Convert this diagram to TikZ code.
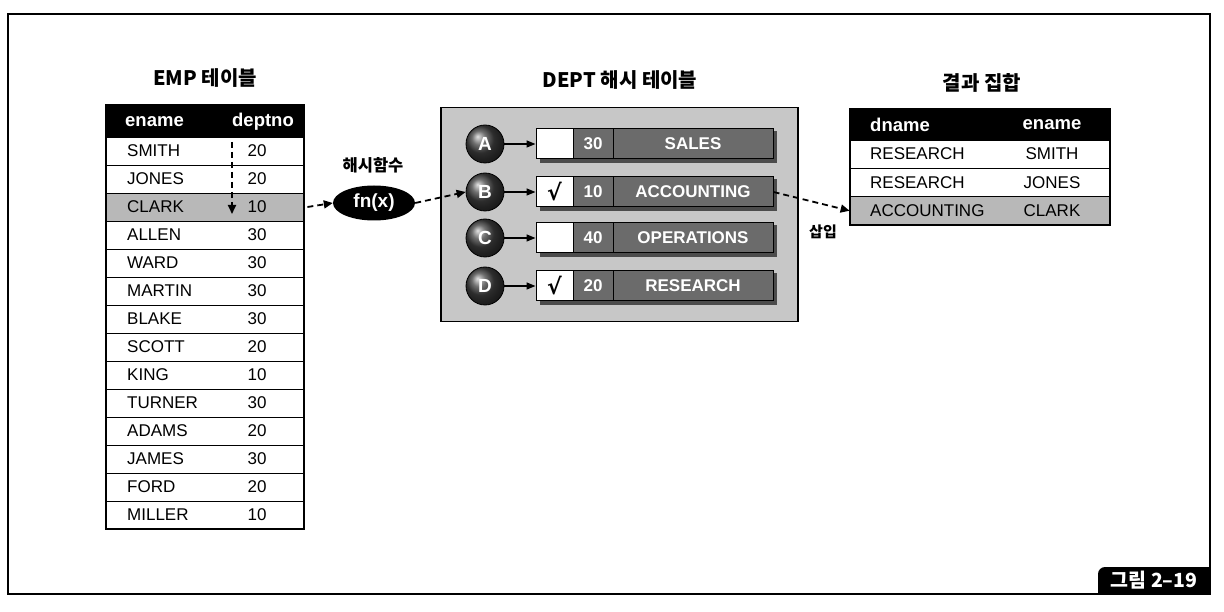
\documentclass[tikz,border=0pt]{standalone}
\usepackage{fontspec}
\setmainfont{Liberation Sans}
\newfontfamily\kr{Noto Sans CJK KR}
\newfontfamily\dv{DejaVu Sans}
\usetikzlibrary{arrows.meta,shapes.geometric,shadows}
\definecolor{halftone}{gray}{0.72}
\definecolor{bgtone}{gray}{0.78}
\definecolor{bartone}{gray}{0.42}
\tikzset{
  txt/.style={inner sep=0pt, font=\fontsize{17}{20}\selectfont},
  hdr/.style={inner sep=0pt, text=white, font=\fontsize{18.5}{20}\selectfont\bfseries},
  ttl/.style={inner sep=0pt, font=\kr\fontsize{20}{24}\selectfont\bfseries},
  rowbox/.style={draw=black, line width=0.8pt, minimum height=28pt, inner sep=0pt},
  darr/.style={line width=1.8pt, dash pattern=on 6pt off 4pt, -{Triangle[length=9pt,width=8pt]}},
  sarr/.style={line width=1.4pt, -{Triangle[length=9pt,width=7pt]}},
  ballnode/.style={circle, minimum size=38pt, inner sep=0pt, draw=black, line width=0.8pt,
     shading=ball, ball color=black!75, text=white, font=\fontsize{19}{20}\selectfont\bfseries},
  barcell/.style={draw=black, line width=1pt, minimum height=30pt, inner sep=0pt, fill=bartone,
     text=white, font=\fontsize{17}{20}\selectfont\bfseries},
  chkcell/.style={draw=black, line width=1pt, minimum height=30pt, minimum width=37pt, inner sep=0pt, fill=white,
     font=\dv\fontsize{22}{24}\selectfont\bfseries},
}
\begin{document}
\begin{tikzpicture}[x=1pt,y=-1pt]
\useasboundingbox (0,0) rectangle (1224,612);
% outer frame
\draw[line width=1.5pt] (8,14) rectangle (1210,594);
\fill[black] (1210,594) -- (1098,594) [rounded corners=7pt]-- (1098,567) [sharp corners]-- (1210,567) -- cycle;
\node[inner sep=0pt, text=white, font=\kr\fontsize{19.5}{22}\selectfont\bfseries] (fig) at (1154,580.5) {그림 2–19};

% ===== EMP table =====
\node[ttl] (empt) at (205,78) {EMP 테이블};
\node[rowbox, fill=black, minimum width=198pt, minimum height=32pt, anchor=north west] (emph) at (106,105) {};
\node[hdr, anchor=west] (emphn) at (125,122) {ename};
\node[hdr] (emphd) at (263,122) {deptno};
\foreach \nm/\dn [count=\i] in {SMITH/20,JONES/20,CLARK/10,ALLEN/30,WARD/30,MARTIN/30,BLAKE/30,SCOTT/20,KING/10,TURNER/30,ADAMS/20,JAMES/30,FORD/20,MILLER/10}{
  \pgfmathsetmacro{\yy}{137+28*(\i-1)+14}
  \ifnum\i=3
    \node[rowbox, fill=halftone, minimum width=198pt] (er\i) at (205,\yy) {};
  \else
    \node[rowbox, minimum width=198pt] (er\i) at (205,\yy) {};
  \fi
  \node[txt, anchor=west] (en\i) at (127,\yy) {\nm};
  \node[txt] (ed\i) at (257,\yy) {\dn};
}
\draw[line width=2pt] (106,105) rectangle (304,529);
\coordinate (vs) at (232,142);
\coordinate (ve) at (232,214);
\draw[darr] (vs) -- (ve);

% ===== hash function =====
\node[inner sep=0pt, font=\kr\fontsize{16.5}{19}\selectfont\bfseries] (hfl) at (373,165) {해시함수};
\node[ellipse, fill=black, minimum width=82pt, minimum height=35pt, inner sep=0pt, text=white,
      font=\fontsize{19}{20}\selectfont\bfseries] (fn) at (374,203) {fn(x)};
\draw[darr] ([xshift=3pt]er3.east) -- (fn.west);

% ===== DEPT hash table =====
\node[ttl] (deptt) at (620,80) {DEPT 해시 테이블};
\node[draw=black, line width=1.5pt, fill=bgtone, minimum width=357pt, minimum height=214pt,
      anchor=north west, inner sep=0pt] (hbox) at (440,107) {};
\foreach \L/\num/\name/\chk/\yy in {A/30/SALES//144, B/10/ACCOUNTING/√/192, C/40/OPERATIONS//238, D/20/RESEARCH/√/286}{
  \node[ballnode] (c\L) at (485,\yy) {\L};
  \fill[black!70] (540,\yy-13) rectangle (777,\yy+19);
  \node[chkcell] (k\L) at (554.5,\yy) {\chk};
  \node[barcell, minimum width=40pt] (n\L) at (593,\yy) {\num};
  \node[barcell, minimum width=160pt] (m\L) at (693,\yy) {\name};
  \draw[sarr] (c\L.east) -- (k\L.west);
}
\draw[darr] (fn.east) -- (cB.west);

% ===== result set =====
\node[ttl] (rest) at (982,83) {결과 집합};
\node[rowbox, fill=black, minimum width=260pt, minimum height=31pt, anchor=north west] (rh) at (850,109) {};
\node[hdr, anchor=west] (rhd) at (870,124.5) {dname};
\node[hdr] (rhe) at (1052,124.5) {ename};
\foreach \dn/\en [count=\i] in {RESEARCH/SMITH, RESEARCH/JONES, ACCOUNTING/CLARK}{
  \pgfmathsetmacro{\yy}{140+28.3*(\i-1)+14.15}
  \ifnum\i=3
    \node[rowbox, fill=halftone, minimum width=260pt, minimum height=28.3pt] (rr\i) at (980,\yy) {};
  \else
    \node[rowbox, minimum width=260pt, minimum height=28.3pt] (rr\i) at (980,\yy) {};
  \fi
  \node[txt, anchor=west] (rd\i) at (870,\yy) {\dn};
  \node[txt] (re\i) at (1052,\yy) {\en};
}
\draw[line width=2pt] (850,109) rectangle (1110,225);
\draw[darr] (mB.east) -- (rr3.west);
\node[inner sep=0pt, font=\kr\fontsize{15}{17}\selectfont\bfseries] (ins) at (823,232) {삽입};
\end{tikzpicture}
\end{document}
